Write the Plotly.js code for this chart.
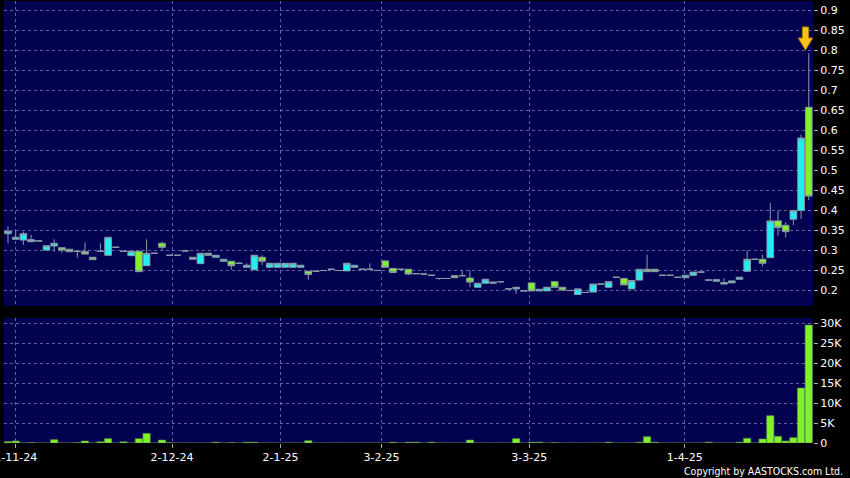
<!DOCTYPE html>
<html><head><meta charset="utf-8">
<script src="https://cdn.plot.ly/plotly-3.0.1.min.js"></script>
<style>html,body{margin:0;padding:0;background:#000;}#chart{width:850px;height:478px;}</style>
</head><body><div id="chart"></div>
<script>
// Daily candles (one slot per trading session shown on the chart)
const openP = [0.342,0.328,0.326,0.322,0.324,0.301,0.311,0.307,0.303,0.298,
 0.297,0.283,0.298,0.288,0.308,0.298,0.287,0.298,0.262,0.293,
 0.318,0.288,0.288,0.299,0.278,0.267,0.293,0.283,0.273,0.273,
 0.268,0.258,0.252,0.283,0.258,0.258,0.258,0.258,0.258,0.248,
 0.248,0.25,0.253,0.25,0.249,0.258,0.253,0.253,0.25,0.274,
 0.255,0.253,0.253,0.242,0.241,0.238,0.23,0.23,0.237,0.237,
 0.231,0.208,0.218,0.218,0.222,0.204,0.204,0.199,0.219,0.199,
 0.199,0.222,0.208,0.2,0.19,0.195,0.196,0.216,0.208,0.233,
 0.23,0.204,0.226,0.253,0.253,0.238,0.238,0.233,0.232,0.238,
 0.246,0.226,0.223,0.216,0.219,0.228,0.248,0.278,0.278,0.282,
 0.374,0.363,0.378,0.40,0.658];
const highP = [0.36,0.35,0.347,0.339,0.324,0.312,0.328,0.307,0.303,0.298,
 0.32,0.283,0.318,0.333,0.308,0.298,0.298,0.298,0.328,0.293,
 0.322,0.288,0.288,0.299,0.283,0.293,0.293,0.288,0.278,0.273,
 0.268,0.268,0.288,0.288,0.268,0.268,0.268,0.268,0.263,0.248,
 0.248,0.25,0.253,0.25,0.268,0.263,0.253,0.268,0.25,0.274,
 0.255,0.253,0.253,0.242,0.241,0.238,0.23,0.23,0.237,0.25,
 0.25,0.218,0.228,0.221,0.222,0.204,0.208,0.199,0.219,0.203,
 0.208,0.222,0.208,0.2,0.204,0.195,0.216,0.216,0.222,0.233,
 0.23,0.225,0.253,0.289,0.253,0.238,0.238,0.233,0.238,0.246,
 0.246,0.229,0.227,0.231,0.224,0.233,0.30,0.278,0.289,0.419,
 0.40,0.371,0.40,0.59,0.793];
const lowP = [0.318,0.328,0.314,0.322,0.324,0.301,0.297,0.294,0.297,0.282,
 0.291,0.277,0.298,0.288,0.308,0.298,0.287,0.247,0.262,0.293,
 0.301,0.288,0.288,0.299,0.278,0.267,0.288,0.283,0.273,0.252,
 0.268,0.258,0.25,0.263,0.258,0.258,0.258,0.258,0.258,0.227,
 0.248,0.25,0.253,0.25,0.249,0.258,0.253,0.253,0.25,0.258,
 0.245,0.253,0.238,0.242,0.241,0.238,0.227,0.23,0.232,0.237,
 0.208,0.208,0.218,0.218,0.218,0.204,0.192,0.199,0.199,0.199,
 0.199,0.208,0.201,0.2,0.19,0.195,0.196,0.216,0.208,0.233,
 0.214,0.204,0.226,0.247,0.247,0.238,0.238,0.233,0.232,0.238,
 0.246,0.226,0.223,0.216,0.219,0.228,0.248,0.278,0.26,0.282,
 0.337,0.332,0.363,0.379,0.426];
const closeP = [0.348,0.333,0.342,0.327,0.324,0.312,0.318,0.301,0.297,0.298,
 0.291,0.277,0.298,0.333,0.308,0.298,0.298,0.247,0.293,0.293,
 0.308,0.288,0.288,0.299,0.283,0.293,0.288,0.288,0.278,0.262,
 0.268,0.263,0.288,0.273,0.268,0.268,0.268,0.268,0.263,0.24,
 0.248,0.25,0.253,0.25,0.268,0.263,0.253,0.253,0.25,0.258,
 0.245,0.253,0.241,0.242,0.241,0.238,0.23,0.23,0.232,0.237,
 0.221,0.218,0.228,0.221,0.222,0.204,0.208,0.199,0.199,0.203,
 0.208,0.208,0.201,0.2,0.204,0.195,0.216,0.216,0.222,0.233,
 0.214,0.225,0.253,0.247,0.247,0.238,0.238,0.233,0.238,0.246,
 0.246,0.226,0.227,0.22,0.224,0.233,0.278,0.278,0.268,0.374,
 0.357,0.347,0.40,0.581,0.436];
const volume = [350,500,0,100,0,0,830,0,0,100,
 500,0,300,1080,0,300,0,1080,2400,0,
 750,100,0,0,0,0,0,200,0,100,
 0,200,200,0,0,0,0,0,0,580,
 0,0,0,0,0,0,0,0,0,0,
 200,0,200,200,0,200,0,0,0,0,
 750,0,0,0,0,0,1080,0,200,200,
 0,100,0,0,0,0,0,0,200,0,
 0,0,200,1580,200,0,0,0,0,0,
 0,200,0,0,0,200,1170,0,1000,6830,
 1670,500,1330,13750,29500];

const dateTickPos = [1.0, 21.3, 35.4, 48.5, 67.7, 87.9];
const dateTickText = ['1-11-24','2-12-24','2-1-25','3-2-25','3-3-25','1-4-25'];
const priceTicks = [0.2,0.25,0.3,0.35,0.4,0.45,0.5,0.55,0.6,0.65,0.7,0.75,0.8,0.85,0.9];
const priceTickText = ['0.2','0.25','0.3','0.35','0.4','0.45','0.5','0.55','0.6','0.65','0.7','0.75','0.8','0.85','0.9'];
const volTicks = [0,5000,10000,15000,20000,25000,30000];
const volTickText = ['0','5K','10K','15K','20K','25K','30K'];

const slots = openP.map((_, i) => i);
const last = slots.length - 1;

const GRID = 'rgba(130,130,185,0.75)';
const tickFont = {color:'#ffffff', size:11, family:'DejaVu Sans, Verdana, sans-serif'};

const candle = {
  type:'candlestick', x:slots, open:openP, high:highP, low:lowP, close:closeP,
  xaxis:'x', yaxis:'y', whiskerwidth:0,
  increasing:{line:{color:'#8a9aa8', width:1}, fillcolor:'#22eef2'},
  decreasing:{line:{color:'#8a9aa8', width:1}, fillcolor:'#80f22a'},
  hoverinfo:'skip'
};
const vol = {
  type:'bar', x:slots, y:volume, xaxis:'x', yaxis:'y2',
  marker:{color:'#80f22a', line:{color:'#5f8f4a', width:0.6}},
  hoverinfo:'skip'
};

const layout = {
  width:850, height:478,
  paper_bgcolor:'#000000', plot_bgcolor:'#020250',
  margin:{l:4, r:37, t:1, b:35},
  showlegend:false,
  boxgap:0.14, boxgroupgap:0, bargap:0.05,
  xaxis:{
    domain:[0,1], range:[-0.52,104.55], anchor:'y2', automargin:false,
    tickmode:'array', tickvals:dateTickPos, ticktext:dateTickText,
    ticks:'outside', ticklen:4, tickcolor:'#aaaaaa', tickfont:tickFont,
    ticklabeloverflow:'allow',
    showgrid:true, gridcolor:GRID, griddash:'3px,3px', gridwidth:1,
    zeroline:false, showline:false, rangeslider:{visible:false}, fixedrange:true
  },
  yaxis:{
    domain:[0.31,1], range:[0.16125,0.92375], side:'right', anchor:'x', automargin:false,
    tickmode:'array', tickvals:priceTicks, ticktext:priceTickText,
    ticks:'outside', ticklen:4, tickcolor:'#aaaaaa', tickfont:tickFont,
    showgrid:true, gridcolor:GRID, griddash:'3px,3px', gridwidth:1,
    zeroline:false, showline:false, fixedrange:true
  },
  yaxis2:{
    domain:[0,0.2828], range:[0,31250], side:'right', anchor:'x', automargin:false,
    tickmode:'array', tickvals:volTicks, ticktext:volTickText,
    ticks:'outside', ticklen:4, tickcolor:'#aaaaaa', tickfont:tickFont,
    showgrid:true, gridcolor:GRID, griddash:'3px,3px', gridwidth:1,
    zeroline:false, showline:false, fixedrange:true
  },
  shapes:[{
    type:'path', xref:'x', yref:'y', xsizemode:'pixel', ysizemode:'pixel',
    xanchor:last, yanchor:highP[last],
    path:'M -3.3,3.3 L -10.5,15.3 L -6.3,15.3 L -6.3,26.3 L -0.3,26.3 L -0.3,15.3 L 3.9,15.3 Z',
    fillcolor:'#f6c21a', line:{color:'#b88400', width:1}
  }],
  annotations:[{
    xref:'paper', yref:'paper', x:(845-4)/809, y:(443-471)/442,
    xanchor:'right', yanchor:'middle', showarrow:false,
    text:'Copyright by AASTOCKS.com Ltd.',
    font:{color:'#ffffff', size:10.5, family:'DejaVu Sans Condensed, DejaVu Sans, sans-serif'}
  }]
};

Plotly.newPlot('chart', [candle, vol], layout, {displayModeBar:false, staticPlot:true});
</script>
</body></html>
